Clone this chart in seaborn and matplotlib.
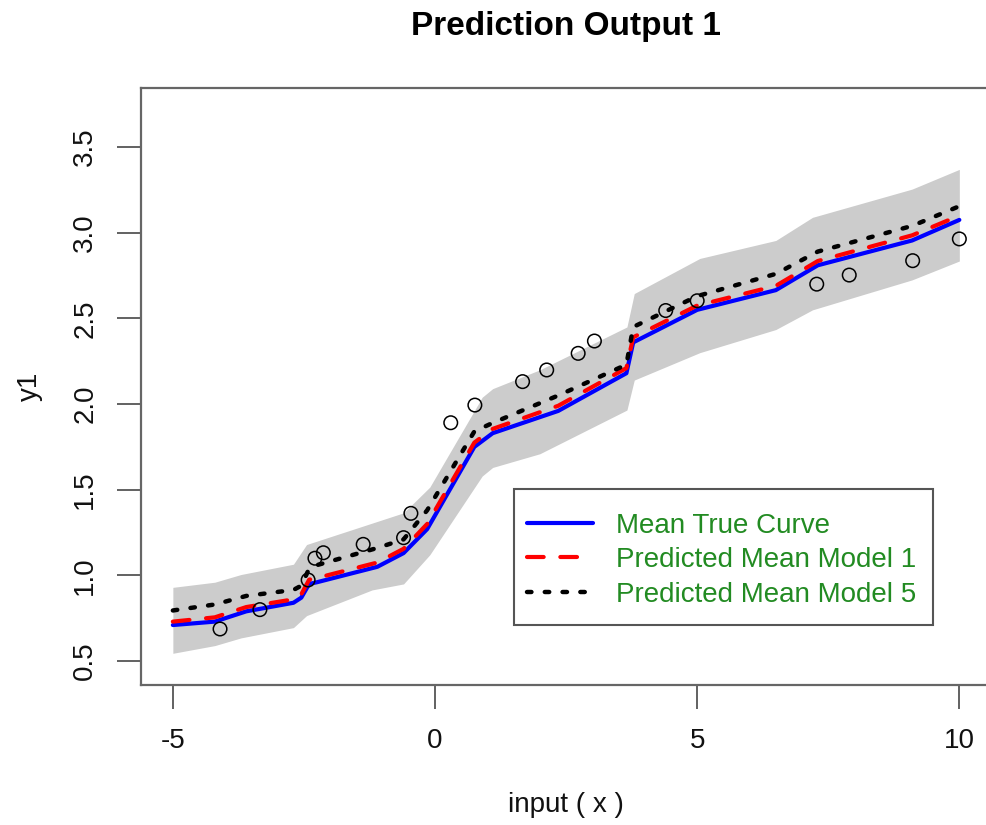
import matplotlib
matplotlib.use("Agg")
import matplotlib.pyplot as plt
from matplotlib.lines import Line2D
from matplotlib.patches import Rectangle
import seaborn as sns
import numpy as np

# observed points
obs_x = [-4.10, -3.34, -2.42, -2.29, -2.13, -1.37, -0.60, -0.46, 0.30, 0.76,
         1.67, 2.13, 2.73, 3.04, 4.40, 5.00, 7.28, 7.90, 9.11, 10.0]
obs_y = [0.687, 0.80, 0.973, 1.10, 1.132, 1.181, 1.22, 1.362, 1.891, 1.994,
         2.131, 2.199, 2.296, 2.368, 2.546, 2.603, 2.70, 2.753, 2.837, 2.964]

# curves
curve_x = [-5, -4.2, -3.6, -2.7, -2.55, -2.4, -2.25, -1.1, -0.6, -0.15,
           0.75, 1.1, 2.35, 3.65, 3.78, 5.0, 6.5, 7.3, 9.1, 10]
true_mean = [0.71, 0.73, 0.79, 0.84, 0.87, 0.95, 0.96, 1.05, 1.13, 1.27,
             1.75, 1.83, 1.96, 2.18, 2.36, 2.55, 2.665, 2.81, 2.955, 3.075]
model1_mean = [0.73, 0.755, 0.815, 0.86, 0.89, 0.975, 0.985, 1.075, 1.155, 1.30,
               1.775, 1.855, 1.99, 2.21, 2.39, 2.575, 2.69, 2.835, 2.985, 3.10]
model5_mean = [0.795, 0.83, 0.88, 0.915, 0.94, 1.04, 1.06, 1.16, 1.21, 1.38,
               1.84, 1.89, 2.05, 2.23, 2.45, 2.63, 2.76, 2.89, 3.04, 3.155]

# grey band
band_x = [-5, -4.2, -3.7, -2.7, -2.45, -1.2, -0.6, -0.1, 0.9, 1.1,
          2.0, 3.66, 3.8, 5.05, 6.5, 7.2, 9.1, 10]
band_hi = [0.93, 0.96, 1.005, 1.065, 1.18, 1.305, 1.365, 1.515, 2.04, 2.09,
           2.20, 2.45, 2.645, 2.85, 2.955, 3.09, 3.255, 3.37]
band_lo = [0.545, 0.59, 0.635, 0.695, 0.765, 0.915, 0.95, 1.12, 1.58, 1.63,
           1.71, 1.965, 2.14, 2.30, 2.435, 2.55, 2.725, 2.835]

x_ticks = [-5, 0, 5, 10]
y_ticks = [0.5, 1.0, 1.5, 2.0, 2.5, 3.0, 3.5]
labels = ["Mean True Curve", "Predicted Mean Model 1", "Predicted Mean Model 5"]

sns.set_theme(style="white")
plt.rcParams['font.family'] = ['Liberation Sans', 'DejaVu Sans']

fig = plt.figure(figsize=(9.86, 8.25), dpi=100)
ax = fig.add_axes([141.4 / 986, 140 / 825, 849.4 / 986, 597 / 825])

ax.fill_between(band_x, band_lo, band_hi, color="#cccccc", linewidth=0)
sns.lineplot(x=curve_x, y=true_mean, color="blue", linewidth=3, ax=ax,
             solid_capstyle="round")
sns.lineplot(x=curve_x, y=model1_mean, color="red", linewidth=3, ax=ax,
             linestyle=(0, (4, 4)), dash_capstyle="round")
sns.lineplot(x=curve_x, y=model5_mean, color="black", linewidth=3.2, ax=ax,
             linestyle=(0, (1, 3)), dash_capstyle="round")
sns.scatterplot(x=obs_x, y=obs_y, ax=ax, s=95, facecolor="none",
                edgecolor="black", linewidth=1.1, zorder=5)

ax.set_xlim(-5.6, 10.6)
ax.set_ylim(0.36, 3.845)
ax.set_xticks(x_ticks)
ax.set_xticklabels([str(t) for t in x_ticks])
ax.set_yticks(y_ticks)
ax.set_yticklabels([f"{t:.1f}" for t in y_ticks], rotation=90, va="center")
ax.tick_params(axis="both", direction="out", length=17, width=1.3,
               color="#555555", labelsize=20, pad=14, labelcolor="#111111")
ax.tick_params(axis="x", bottom=True)
ax.tick_params(axis="y", left=True)
for sp in ax.spines.values():
    sp.set_color("#666666")
    sp.set_linewidth(1.6)

ax.set_xlabel("input ( x )", fontsize=20, color="#111111")
ax.xaxis.set_label_coords(0.5, -0.201)
ax.xaxis.label.set_va("center")
ax.set_ylabel("y1", fontsize=20, color="#111111")
ax.yaxis.set_label_coords(-0.131, 0.5)
ax.yaxis.label.set_va("center")
fig.text(566 / 986, 1 - 26 / 825, "Prediction Output 1", fontsize=24,
         fontweight="bold", color="black", ha="center", va="center")

# legend box drawn like R's legend()
ax.add_patch(Rectangle((0.4387, 0.1005), 0.4933, 0.2278, transform=ax.transAxes,
                       facecolor="white", edgecolor="#555555", linewidth=1.5,
                       zorder=6))
handles = [
    Line2D([], [], color="blue", linewidth=3, solid_capstyle="round"),
    Line2D([], [], color="red", linewidth=3, linestyle=(0, (4, 4)), dash_capstyle="round"),
    Line2D([], [], color="black", linewidth=3.2, linestyle=(0, (1, 3)), dash_capstyle="round"),
]
leg = ax.legend(handles, labels, loc="upper left", bbox_to_anchor=(0.454, 0.2888),
                borderaxespad=0, fontsize=20, labelcolor="forestgreen",
                handlelength=2.37, handletextpad=0.83, labelspacing=0.31,
                borderpad=0, frameon=False)
leg.set_zorder(7)

fig.savefig("out.png", dpi=100)
